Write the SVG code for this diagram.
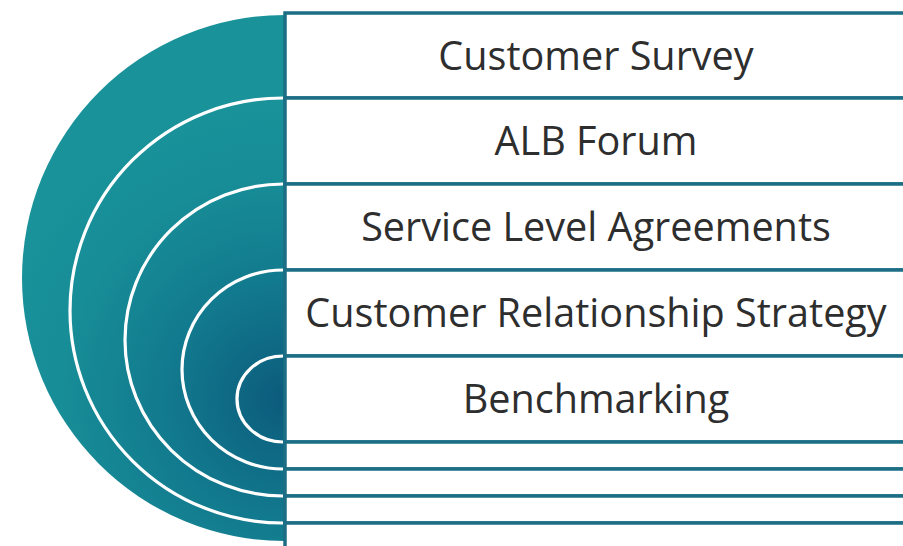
<svg xmlns="http://www.w3.org/2000/svg" width="903" height="546" viewBox="0 0 903 546">
  <defs>
    <radialGradient id="tealGrad" gradientUnits="userSpaceOnUse" cx="285" cy="400" r="300">
      <stop offset="0" stop-color="#0c5b7c"/>
      <stop offset="0.4" stop-color="#127a8e"/>
      <stop offset="0.75" stop-color="#178d97"/>
      <stop offset="1" stop-color="#19929a"/>
    </radialGradient>
    <style>
      .row { fill: #ffffff; stroke: #1c6e85; stroke-width: 3.5; }
      .ring { fill: none; stroke: #ffffff; stroke-width: 3.2; }
      .label { font-family: "Open Sans", "Liberation Sans", sans-serif; font-size: 39.6px; fill: #2e2e2e; text-anchor: middle; }
    </style>
  </defs>
  <rect width="903" height="546" fill="#ffffff"/>
  <g id="rings">
    <path d="M285,15 A263,263 0 0 0 285,541 Z" fill="url(#tealGrad)"/>
    <path class="ring" d="M283,98 A213,212.5 0 0 0 283,523"/>
    <path class="ring" d="M283,184 A158,156 0 0 0 283,496"/>
    <path class="ring" d="M283,270 A101,99.5 0 0 0 283,469"/>
    <path class="ring" d="M283,356 A46,43 0 0 0 283,442"/>
  </g>
  <g id="connectors"/>
  <g id="node-customer-survey">
    <rect class="row" x="285" y="13" width="640" height="85"/>
    <text class="label" x="596" y="70">Customer Survey</text>
  </g>
  <g id="node-alb-forum">
    <rect class="row" x="285" y="98" width="640" height="86"/>
    <text class="label" x="596" y="155">ALB Forum</text>
  </g>
  <g id="node-service-level-agreements">
    <rect class="row" x="285" y="184" width="640" height="86"/>
    <text class="label" x="596" y="241">Service Level Agreements</text>
  </g>
  <g id="node-customer-relationship-strategy">
    <rect class="row" x="285" y="270" width="640" height="86"/>
    <text class="label" x="596" y="327">Customer Relationship Strategy</text>
  </g>
  <g id="node-benchmarking">
    <rect class="row" x="285" y="356" width="640" height="86"/>
    <text class="label" x="596" y="413">Benchmarking</text>
  </g>
  <g id="node-empty-rows">
    <rect class="row" x="285" y="442" width="640" height="27"/>
    <rect class="row" x="285" y="469" width="640" height="27"/>
    <rect class="row" x="285" y="496" width="640" height="27"/>
    <rect class="row" x="285" y="523" width="640" height="40"/>
  </g>
</svg>
